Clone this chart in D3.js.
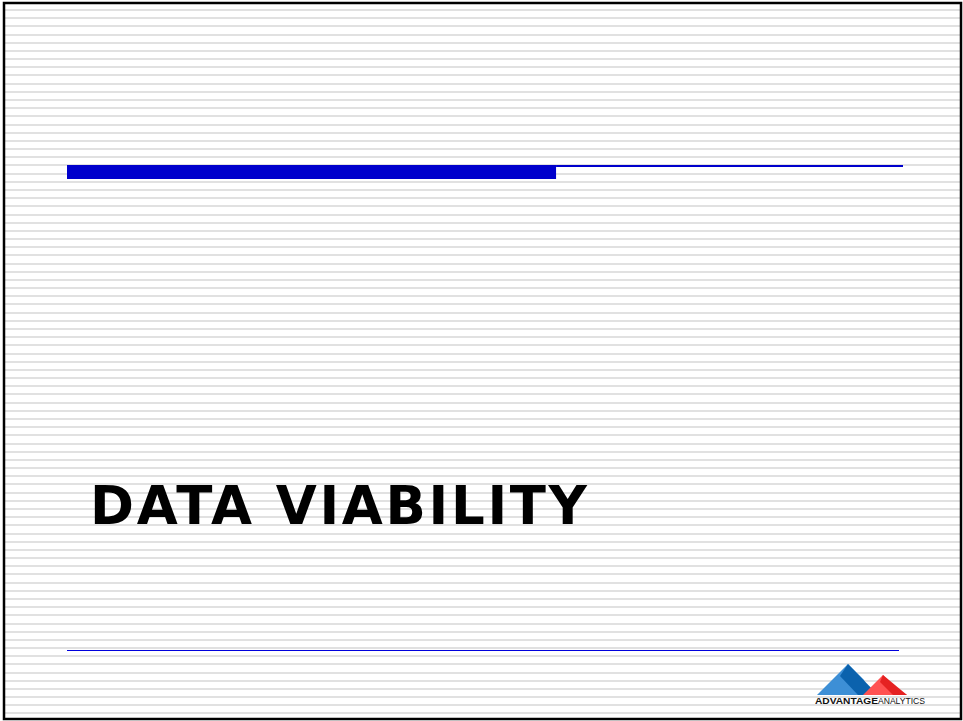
<!DOCTYPE html>
<html>
<head>
<meta charset="utf-8">
<script src="https://d3js.org/d3.v7.min.js"></script>
<style>
  body { margin: 0; background: #fff; }
  svg { display: block; }
</style>
</head>
<body>
<div id="slide"></div>
<script>
// slide content
const titleText = ["DATA VIABILITY"];
const logoWords = ["ADVANTAGE", "ANALYTICS"];
// rules under the header: [x0, x1, thickness] in slide units (0..100 wide)
const headerRules = [[0, 58.5, 14], [58.5, 100, 2]];

const width = 963,
      height = 721;

const svg = d3.select("#slide").append("svg")
    .attr("width", width)
    .attr("height", height);

svg.append("rect")
    .attr("width", width).attr("height", height)
    .attr("fill", "#fff");

// striped background
const stripes = svg.append("g");
stripes.selectAll("rect")
    .data(d3.range(0, 88))
    .enter().append("rect")
    .attr("x", 5)
    .attr("y", d => Math.round(9 + d * 8.18))
    .attr("width", 956)
    .attr("height", 2)
    .attr("fill", "#e1e1e1");

// slide border
svg.append("rect")
    .attr("x", 4).attr("y", 3)
    .attr("width", 957).attr("height", 716)
    .attr("fill", "none")
    .attr("stroke", "#000")
    .attr("stroke-width", 2.5);

const x = d3.scaleLinear().domain([0, 100]).range([67, 903]);

// header bar + thin line
svg.append("g").selectAll("rect")
    .data(headerRules)
    .enter().append("rect")
    .attr("x", d => x(d[0]))
    .attr("y", 165)
    .attr("width", d => x(d[1]) - x(d[0]))
    .attr("height", d => d[2])
    .attr("fill", "#0000cc");

// bottom rule
svg.append("rect")
    .attr("x", 67).attr("y", 650)
    .attr("width", 832).attr("height", 1)
    .attr("fill", "#0000dd");

// title
svg.append("text")
    .data(titleText)
    .attr("x", 90)
    .attr("y", 524)
    .attr("textLength", 497)
    .attr("lengthAdjust", "spacing")
    .style("font-family", "'DejaVu Sans', sans-serif")
    .style("font-weight", "bold")
    .style("font-size", "53px")
    .attr("fill", "#000")
    .text(d => d);

// logo
const logo = svg.append("g");
logo.append("path").attr("d", "M817,695 L848,664 L864,680 L870,695 Z").attr("fill", "#3d8fd6");
logo.append("path").attr("d", "M848,664 L878,695 L858,695 L840,676 Z").attr("fill", "#0b62ad");
logo.append("path").attr("d", "M863,695 L883,675 L895,687 L907,695 Z").attr("fill", "#ff5252");
logo.append("path").attr("d", "M883,675 L907,695 L893,695 L880,682 Z").attr("fill", "#e52222");

const lt = logo.append("text")
    .attr("x", 815)
    .attr("y", 704)
    .style("font-family", "'Liberation Sans', Arial, sans-serif")
    .style("font-size", "9.5px")
    .attr("fill", "#111");
lt.append("tspan").style("font-weight", "bold").attr("textLength", 63).attr("lengthAdjust", "spacingAndGlyphs").text(logoWords[0]);
lt.append("tspan").attr("x", 878).attr("textLength", 47).attr("lengthAdjust", "spacingAndGlyphs").text(logoWords[1]);
</script>
</body>
</html>
